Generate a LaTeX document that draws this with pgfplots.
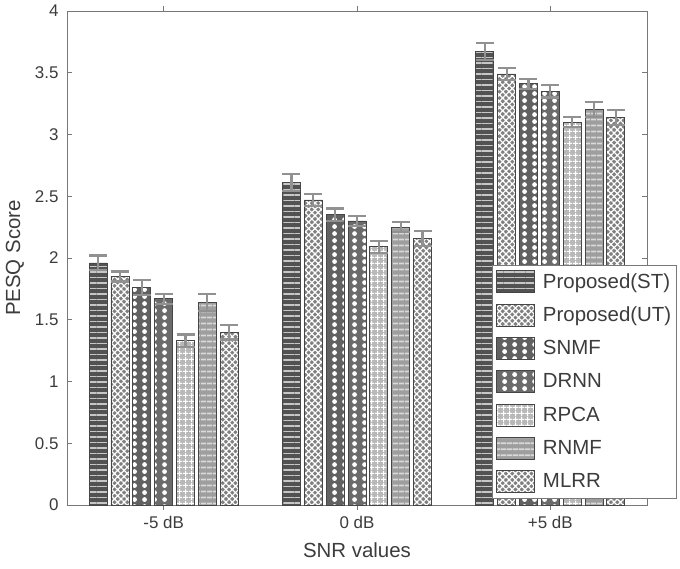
\documentclass[border=0pt]{standalone}
\usepackage{pgfplots}
\usepackage{pgfplotstable}
\pgfplotsset{compat=1.18}
\usepackage{fontspec}
\setmainfont{Liberation Sans}
\usetikzlibrary{patterns.meta}

\definecolor{axisgray}{RGB}{120,120,120}
\definecolor{txtgray}{RGB}{60,60,60}
\definecolor{errgray}{RGB}{145,145,145}
\definecolor{edgegray}{RGB}{70,70,70}

% white dots, two columns per bar
\tikzdeclarepattern{
  name=bigdots, type=uncolored,
  bottom left={(0bp,0bp)}, top right={(10bp,7.4bp)},
  tile size={(10bp,7.4bp)},
  code={\fill (5bp,3.7bp) circle (2.6bp);}
}

% PESQ scores: x = SNR group (0: -5 dB, 1: 0 dB, 2: +5 dB), y = mean, err = deviation
\pgfplotstableread{
x y err
0 1.96 0.06
1 2.61 0.07
2 3.67 0.07
}\tST
\pgfplotstableread{
x y err
0 1.85 0.04
1 2.47 0.05
2 3.49 0.05
}\tUT
\pgfplotstableread{
x y err
0 1.76 0.06
1 2.35 0.05
2 3.41 0.04
}\tSNMF
\pgfplotstableread{
x y err
0 1.67 0.04
1 2.30 0.04
2 3.35 0.05
}\tDRNN
\pgfplotstableread{
x y err
0 1.33 0.05
1 2.09 0.05
2 3.10 0.04
}\tRPCA
\pgfplotstableread{
x y err
0 1.64 0.07
1 2.25 0.04
2 3.20 0.06
}\tRNMF
\pgfplotstableread{
x y err
0 1.40 0.06
1 2.16 0.06
2 3.14 0.06
}\tMLRR

\begin{document}
\begin{tikzpicture}
\begin{axis}[
  name=ax,
  scale only axis, width=580bp, height=494bp,
  xmin=-0.5, xmax=2.5, ymin=0, ymax=4,
  xtick={0,1,2}, xticklabels={-5 dB, 0 dB, +5 dB},
  ytick={0,0.5,...,4},
  /pgf/number format/assume math mode=true,
  tick align=inside, tick pos=both,
  major tick length=5bp,
  axis line style={axisgray, line width=0.9bp},
  every tick/.style={axisgray, line width=0.9bp},
  tick label style={font=\fontsize{17}{19}\selectfont, text=txtgray},
  yticklabel style={xshift=-5bp},
  xticklabel style={yshift=-3bp},
  xlabel={SNR values}, ylabel={PESQ Score},
  every axis x label/.style={at={(rel axis cs:0.5,0)}, yshift=-45bp, anchor=center,
    font=\fontsize{20.5}{23}\selectfont, text=txtgray},
  every axis y label/.style={at={(rel axis cs:0,0.5)}, xshift=-52bp, anchor=center, rotate=90,
    font=\fontsize{20.5}{23}\selectfont, text=txtgray},
  ybar, bar width=0.093,
  every axis plot/.append style={draw=edgegray, line width=0.8bp},
  error bars/y dir=both, error bars/y explicit,
  error bars/error bar style={line width=2.2bp, color=errgray},
  error bars/error mark options={rotate=90, mark size=9bp, line width=2.2bp, color=errgray},
  % swatch plus a blank gap before the entry text
  legend image code/.code={\draw[#1, line width=0.8bp] (0bp,-11bp) rectangle (38bp,11bp);
    \pgfpathrectangle{\pgfpoint{0bp}{-11bp}}{\pgfpoint{45bp}{22bp}}\pgfusepath{use as bounding box}},
  legend style={at={(0.733,0.486)}, anchor=north west, draw=axisgray, fill=white,
    line width=0.9bp, font=\fontsize{20.5}{22}\selectfont, text=txtgray,
    row sep=10.5bp, inner xsep=3bp, inner ysep=5bp, cells={anchor=west}},
]
\addplot[bar shift=-0.339, fill=black!68,
  postaction={pattern={Lines[angle=0,distance=5.5bp,line width=1.5bp]}, pattern color=black!22}]
  table[x=x, y=y, y error=err]{\tST};
\addlegendentry{Proposed(ST)}
\addplot[bar shift=-0.226, fill=black!50,
  postaction={pattern={Hatch[angle=45,distance=4.5bp,line width=1.2bp]}, pattern color=white}]
  table[x=x, y=y, y error=err]{\tUT};
\addlegendentry{Proposed(UT)}
\addplot[bar shift=-0.113, fill=black!62,
  postaction={pattern=bigdots, pattern color=white}]
  table[x=x, y=y, y error=err]{\tSNMF};
\addlegendentry{SNMF}
\addplot[bar shift=0, fill=black!58,
  postaction={pattern=bigdots, pattern color=white}]
  table[x=x, y=y, y error=err]{\tDRNN};
\addlegendentry{DRNN}
\addplot[bar shift=0.113, fill=black!28,
  postaction={pattern={Hatch[angle=0,distance=6bp,line width=1bp]}, pattern color=white}]
  table[x=x, y=y, y error=err]{\tRPCA};
\addlegendentry{RPCA}
\addplot[bar shift=0.226, fill=black!38,
  postaction={pattern={Lines[angle=0,distance=6bp,line width=2bp]}, pattern color=black!15}]
  table[x=x, y=y, y error=err]{\tRNMF};
\addlegendentry{RNMF}
\addplot[bar shift=0.339, fill=black!50,
  postaction={pattern={Hatch[angle=45,distance=4.5bp,line width=1.2bp]}, pattern color=white}]
  table[x=x, y=y, y error=err]{\tMLRR};
\addlegendentry{MLRR}
\end{axis}
% page frame: room for labels on the left and below, legend cut at the right edge
\pgfresetboundingbox
\path ([xshift=-67bp,yshift=-64bp]ax.south west) rectangle ([xshift=33bp,yshift=11bp]ax.north east);
\end{tikzpicture}
\end{document}
